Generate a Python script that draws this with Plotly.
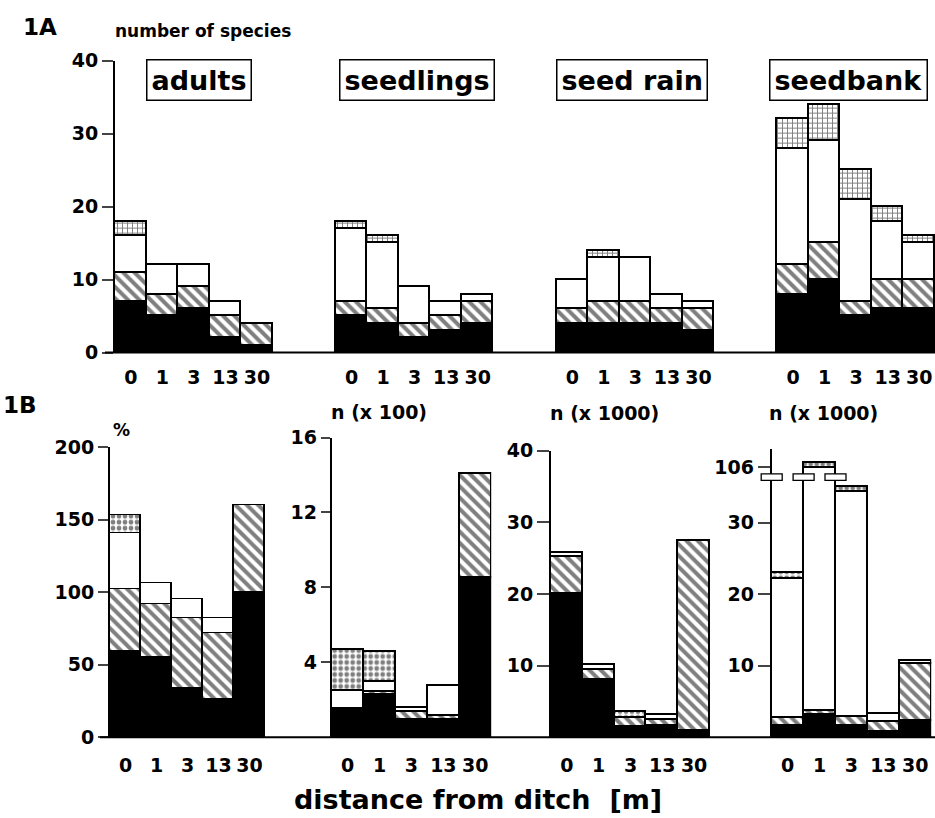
import plotly.graph_objects as go

W, H = 935, 818

distances = ["0", "1", "3", "13", "30"]
stages = ["adults", "seedlings", "seed rain", "seedbank"]

# 1A - number of species per class; 4 stages x 5 distances (0, 1, 3, 13, 30 m)
species_solid = [7, 5, 6, 2, 1, 5, 4, 2, 3, 4, 4, 4, 4, 4, 3, 8, 10, 5, 6, 6]
species_hatched = [4, 3, 3, 3, 3, 2, 2, 2, 2, 3, 2, 3, 3, 2, 3, 4, 5, 2, 4, 4]
species_open = [5, 4, 3, 2, 0, 10, 9, 5, 2, 1, 4, 6, 6, 2, 1, 16, 14, 14, 8, 5]
species_dotted = [2, 0, 0, 0, 0, 1, 1, 0, 0, 0, 0, 1, 0, 0, 0, 4, 5, 4, 2, 1]

# 1B - adults: cover (%)
adults_solid = [59, 55, 34, 26, 100]
adults_hatched = [43, 37, 48, 46, 60]
adults_open = [39, 14, 13, 10, 0]
adults_dotted = [12, 0, 0, 0, 0]

# 1B - seedlings: n (x 100)
seedl_solid = [1.45, 2.3, 0.97, 0.92, 8.5]
seedl_hatched = [0.1, 0.15, 0.38, 0.26, 5.6]
seedl_open = [0.93, 0.5, 0.21, 1.59, 0]
seedl_dotted = [2.18, 1.61, 0, 0, 0]

# 1B - seed rain: n (x 1000)
rain_solid = [20.0, 8.1, 1.5, 1.6, 1.0]
rain_hatched = [5.2, 1.4, 1.2, 0.8, 26.5]
rain_open = [0.6, 0.7, 0, 0.7, 0]
rain_dotted = [0, 0, 0.9, 0, 0]

# 1B - seedbank: n (x 1000), axis broken between 36 and 106
bank_solid = [1.6, 3.1, 1.6, 0.7, 2.3]
bank_hatched = [1.1, 0.6, 1.3, 1.5, 8.0]
bank_open = [19.4, 102.2, 31.45, 1.1, 0.3]
bank_dotted = [0.8, 0.7, 0.65, 0, 0]

BREAK_FROM = 36.0      # values above this are drawn above the axis break
BREAK_VALUE = 106.0    # value labelled just above the break
BREAK_TICK_POS = 37.7  # where that label sits on the drawn scale


def px_x(px):
    return px / W


def px_y(py):
    return 1 - py / H


FONT = "DejaVu Sans"
OUTLINE = dict(color="black", width=1.6)


def marker(cls, dots="."):
    if cls == "solid":
        return dict(color="black", line=OUTLINE)
    if cls == "hatched":
        return dict(color="white", line=OUTLINE,
                    pattern=dict(shape="\\", fgcolor="black", bgcolor="white",
                                 size=8, solidity=0.5))
    if cls == "open":
        return dict(color="white", line=OUTLINE)
    if dots == "+":
        return dict(color="white", line=OUTLINE,
                    pattern=dict(shape="+", fgcolor="black", bgcolor="white",
                                 size=5, solidity=0.35))
    return dict(color="white", line=OUTLINE,
                pattern=dict(shape=".", fgcolor="black", bgcolor="white",
                             size=6, solidity=0.5))


CLASSES = ["solid", "hatched", "open", "dotted"]

fig = go.Figure()


def add_stack(xa, ya, xs, layers, dots="."):
    for cls, vals in zip(CLASSES, layers):
        ys = [v if v > 0 else None for v in vals]
        fig.add_trace(go.Bar(x=xs, y=ys, width=1.0, xaxis=xa, yaxis=ya,
                             marker=marker(cls, dots), name=cls,
                             showlegend=False, hoverinfo="skip"))


def drawn_layers(layers, scale):
    out, cum = [], [0.0] * len(layers[0])
    for vals in layers:
        new = [c + v for c, v in zip(cum, vals)]
        out.append([scale(n) - scale(c) for c, n in zip(cum, new)])
        cum = new
    return out


def bank_scale(v):
    return v if v <= BREAK_FROM else BREAK_TICK_POS + (v - BREAK_VALUE)


# ---- 1A: one shared axis, four groups of five bars ----
GROUP_STEP = 7
top_x = [g * GROUP_STEP + i + 0.5 for g in range(4) for i in range(5)]
add_stack("x", "y", top_x,
          [species_solid, species_hatched, species_open, species_dotted], dots="+")

# ---- 1B: four panels ----
panels = [
    dict(layers=[adults_solid, adults_hatched, adults_open, adults_dotted],
         axis_px=110, bar_px=31.0, top_px=448.3, yr=[0, 200],
         tv=[0, 50, 100, 150, 200], tt=["0", "50", "100", "150", "200"], tl=10),
    dict(layers=[seedl_solid, seedl_hatched, seedl_open, seedl_dotted],
         axis_px=331.7, bar_px=31.9, top_px=438.3, yr=[0, 16],
         tv=[4, 8, 12, 16], tt=["4", "8", "12", "16"], tl=9),
    dict(layers=[rain_solid, rain_hatched, rain_open, rain_dotted],
         axis_px=551, bar_px=31.8, top_px=451.7, yr=[0, 40],
         tv=[10, 20, 30, 40], tt=["10", "20", "30", "40"], tl=12),
    dict(layers=drawn_layers([bank_solid, bank_hatched, bank_open, bank_dotted], bank_scale),
         axis_px=771.7, bar_px=31.9, top_px=450.0, yr=[0, 40.3],
         tv=[10, 20, 30, BREAK_TICK_POS], tt=["10", "20", "30", "106"], tl=12),
]
BOTTOM_ZERO = 746.3

tickfont = dict(family=FONT, size=19, color="black", weight="bold")
layout_axes = {}

layout_axes["xaxis"] = dict(
    domain=[px_x(115), 1.0], range=[0, 26], anchor="y",
    tickvals=top_x, ticktext=distances * 4, ticks="outside", ticklen=8,
    tickcolor="rgba(0,0,0,0)", showline=False, showgrid=False, zeroline=False,
    tickfont=tickfont, fixedrange=True)
layout_axes["yaxis"] = dict(
    domain=[px_y(351), px_y(51)], range=[0, 40], anchor="x",
    tickvals=[0, 10, 20, 30, 40], ticks="outside", ticklen=11, tickwidth=2,
    showline=True, linewidth=2, linecolor="black", showgrid=False,
    zeroline=False, tickfont=tickfont, fixedrange=True)

for k, p in enumerate(panels):
    n = k + 2
    xs = [i + 0.5 for i in range(5)]
    add_stack(f"x{n}", f"y{n}", xs, p["layers"])
    x0 = px_x(p["axis_px"])
    x1 = px_x(p["axis_px"] + 5 * p["bar_px"])
    layout_axes[f"xaxis{n}"] = dict(
        domain=[x0, x1], range=[0, 5], anchor=f"y{n}",
        tickvals=xs, ticktext=distances, ticks="outside", ticklen=11,
        tickcolor="rgba(0,0,0,0)", showline=False, showgrid=False,
        zeroline=False, tickfont=tickfont, fixedrange=True)
    layout_axes[f"yaxis{n}"] = dict(
        domain=[px_y(BOTTOM_ZERO), px_y(p["top_px"])], range=p["yr"],
        anchor=f"x{n}", tickvals=p["tv"], ticktext=p["tt"], ticks="outside",
        ticklen=p["tl"], tickwidth=2, showline=True, linewidth=2,
        linecolor="black", showgrid=False, zeroline=False, tickfont=tickfont,
        fixedrange=True)

shapes = [
    # baselines of both rows
    dict(type="line", xref="paper", yref="paper", x0=px_x(105), x1=1.0,
         y0=px_y(351), y1=px_y(351), line=dict(color="black", width=2)),
    dict(type="line", xref="paper", yref="paper", x0=px_x(100), x1=1.0,
         y0=px_y(BOTTOM_ZERO), y1=px_y(BOTTOM_ZERO), line=dict(color="black", width=2)),
]

# axis-break marks on the seedbank panel (on the axis and on the edges of the broken bar)
bank = panels[3]
bank_px_per_unit = (BOTTOM_ZERO - bank["top_px"]) / bank["yr"][1]
brk_lo, brk_hi = 35.9, 36.8
for edge in [0, 1, 2]:
    cx = bank["axis_px"] + edge * bank["bar_px"]
    shapes.append(dict(
        type="rect", xref="paper", yref="paper", layer="above",
        x0=px_x(cx - 10.5), x1=px_x(cx + 10.5),
        y0=px_y(BOTTOM_ZERO - brk_lo * bank_px_per_unit),
        y1=px_y(BOTTOM_ZERO - brk_hi * bank_px_per_unit),
        fillcolor="white", line=dict(color="black", width=1.3)))


def label(text, x, y, size, xanchor="center", **kw):
    return dict(text=text, x=x, y=y, xref="paper", yref="paper",
                xanchor=xanchor, yanchor="middle", showarrow=False,
                font=dict(family=FONT, size=size, color="black", weight="bold"), **kw)


annotations = [
    label("1A", px_x(40), px_y(16), 23),
    label("number of species", px_x(113), px_y(21), 17, xanchor="left"),
    label("1B", px_x(20), px_y(405), 23),
    label("%", px_x(121), px_y(431), 17),
    label("n (x 100)", px_x(329), px_y(412), 19, xanchor="left"),
    label("n (x 1000)", px_x(548), px_y(413), 19, xanchor="left"),
    label("n (x 1000)", px_x(767), px_y(413), 19, xanchor="left"),
    label("distance from ditch  [m]", px_x(478), px_y(810), 27),
]

# boxed stage titles over each group of 1A
box_centres = [2.66, 9.57, 16.4, 23.26]
for stage, cx in zip(stages, box_centres):
    annotations.append(dict(
        text=stage, x=cx, y=px_y(70.5), xref="x", yref="paper",
        xanchor="center", yanchor="middle", showarrow=False,
        font=dict(family=FONT, size=27, color="black", weight="bold"),
        bordercolor="black", borderwidth=1.5, borderpad=4, bgcolor="white"))

fig.update_layout(
    width=W, height=H, margin=dict(l=0, r=0, t=0, b=0),
    paper_bgcolor="white", plot_bgcolor="rgba(0,0,0,0)",
    barmode="stack", bargap=0, showlegend=False,
    font=dict(family=FONT, size=19, color="black", weight="bold"),
    shapes=shapes, annotations=annotations, **layout_axes)

fig.write_html("out.html")
